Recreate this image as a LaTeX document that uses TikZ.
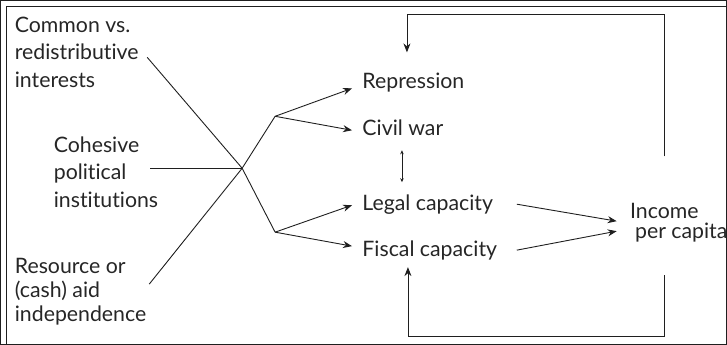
\documentclass[tikz,border=0pt]{standalone}
\usepackage{fontspec}
\setmainfont{Lato}[Ligatures=NoCommon]
\usetikzlibrary{arrows.meta}
\begin{document}
\begin{tikzpicture}[x=1pt,y=-1pt,
  line width=0.9pt,
  every path/.style={draw=black!88},
  lbl/.style={font=\fontsize{21.3}{27.5}\selectfont, text=black!85, inner sep=0pt, align=left, anchor=base west},
  arr/.style={-{Stealth[length=9pt,width=7pt]}},
  darr/.style={{Stealth[length=4pt,width=3.5pt]}-{Stealth[length=4pt,width=3.5pt]}, line width=0.7pt}]
\useasboundingbox (0,0) rectangle (727,344);
% frame
\coordinate (fbl) at (6,344);
\coordinate (ftl) at (6,6);
\coordinate (ftr) at (727,6);
\draw[line width=1.2pt] (fbl) -- (ftl) -- (ftr);
% labels (base = baseline of last line)
\node[lbl] (common) at (14,87) {Common vs.\\redistributive\\interests};
\node[lbl] (cohesive) at (53,207) {Cohesive\\political\\institutions};
\node[lbl, font=\fontsize{21.3}{24}\selectfont] (resource) at (14,321) {Resource or\\(cash) aid\\independence};
\node[lbl] (repr) at (362,88) {Repression};
\node[lbl] (civil) at (362,135) {Civil war};
\node[lbl] (legal) at (362,210) {Legal capacity};
\node[lbl] (fiscal) at (362,256) {Fiscal capacity};
\node[lbl, font=\fontsize{21.3}{20}\selectfont] (income) at (630,238) {Income\\\hspace{5pt}per capita};
% junction points
\coordinate (s1) at (147,57);
\coordinate (s2) at (150,168);
\coordinate (s3) at (149,284);
\coordinate (hub) at (242,168);
\coordinate (upf) at (275,116);
\coordinate (lof) at (275,232);
\coordinate (tRep) at (352,88);
\coordinate (tCiv) at (352,130);
\coordinate (tLeg) at (352,205);
\coordinate (tFis) at (352,246);
\coordinate (dA) at (402,150);
\coordinate (dB) at (402,182);
\coordinate (oLeg) at (517,204);
\coordinate (oFis) at (517,250);
\coordinate (iA) at (617,221);
\coordinate (iB) at (617,231);
\coordinate (tp1) at (665,156);
\coordinate (tp2) at (665,14);
\coordinate (tp3) at (407,14);
\coordinate (tp4) at (407,52);
\coordinate (bt1) at (665,275);
\coordinate (bt2) at (665,336);
\coordinate (bt3) at (408,336);
\coordinate (bt4) at (408,267);
% connectors
\draw (s1) -- (hub);
\draw (s2) -- (hub);
\draw (s3) -- (hub);
\draw (hub) -- (upf);
\draw (hub) -- (lof);
\draw[arr] (upf) -- (tRep);
\draw[arr] (upf) -- (tCiv);
\draw[arr] (lof) -- (tLeg);
\draw[arr] (lof) -- (tFis);
\draw[darr] (dA) -- (dB);
\draw[arr] (oLeg) -- (iA);
\draw[arr] (oFis) -- (iB);
\draw[arr] (tp1) -- (tp2) -- (tp3) -- (tp4);
\draw[arr] (bt1) -- (bt2) -- (bt3) -- (bt4);
\end{tikzpicture}
\end{document}
